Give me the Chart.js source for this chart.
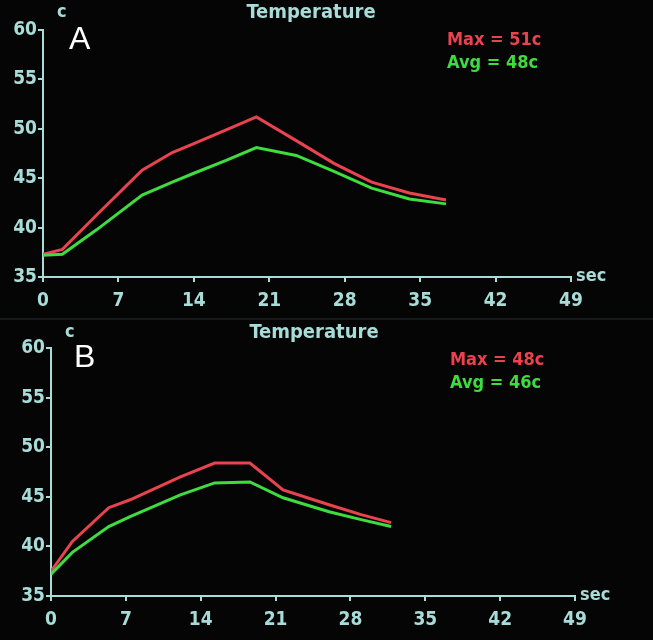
<!DOCTYPE html>
<html>
<head>
<meta charset="utf-8">
<script src="https://cdn.jsdelivr.net/npm/chart.js@4/dist/chart.umd.min.js"></script>
<style>
  html,body{margin:0;padding:0;background:#050505;width:653px;height:640px;overflow:hidden;}
  .panel{position:absolute;left:0;width:653px;height:320px;}
  #sep{position:absolute;left:0;top:318px;width:653px;height:2px;background:#151818;}
</style>
</head>
<body>
<div class="panel" style="top:0"><canvas id="cA" width="653" height="320"></canvas></div>
<div id="sep"></div>
<div class="panel" style="top:320px"><canvas id="cB" width="653" height="320"></canvas></div>
<script>
// ---- data ----
const xTicks = [0, 7, 14, 21, 28, 35, 42, 49];
const yTicks = [35, 40, 45, 50, 55, 60];

const timeA = [0, 1.8, 5, 9.2, 12, 14, 17, 19.8, 23.5, 27, 30.5, 34, 37.4];
const maxA  = [37.3, 37.8, 41.3, 45.8, 47.6, 48.5, 49.9, 51.2, 48.8, 46.5, 44.6, 43.5, 42.8];
const avgA  = [37.2, 37.3, 39.8, 43.3, 44.6, 45.5, 46.8, 48.1, 47.3, 45.7, 44.0, 42.9, 42.4];

const timeB = [0, 2, 5.4, 7.4, 12.1, 15.3, 18.6, 21.7, 26, 29, 31.8];
const maxB  = [37.5, 40.5, 43.9, 44.7, 47.0, 48.4, 48.4, 45.7, 44.2, 43.2, 42.4];
const avgB  = [37.2, 39.4, 42.0, 43.0, 45.2, 46.4, 46.5, 44.9, 43.5, 42.7, 42.0];

const titleText = "Temperature";
const yUnit = "c";
const xUnit = "sec";
const maxLabelA = "Max = 51c", avgLabelA = "Avg = 48c";
const maxLabelB = "Max = 48c", avgLabelB = "Avg = 46c";

// ---- style ----
const CYAN = '#a8dcd8';
const RED = '#e8434e';
const GREEN = '#3fdc3f';
const NARROW = "'DejaVu Sans Condensed','Liberation Sans',sans-serif";
const SANS = "'Liberation Sans',Arial,sans-serif";

function pts(t, v){ return t.map((x,i)=>({x:x, y:v[i]})); }

function makeChart(id, o){
  const annot = {
    id:'annot'+id,
    afterDraw(chart){
      const ctx = chart.ctx;
      const a = chart.chartArea;
      ctx.save();
      ctx.textBaseline = 'middle';
      // title
      ctx.fillStyle = CYAN;
      ctx.font = "bold 20px " + NARROW;
      ctx.textAlign = 'center';
      ctx.fillText(titleText, o.titleX, 13);
      // units
      ctx.font = "bold 18px " + NARROW;
      ctx.textAlign = 'left';
      ctx.fillText(yUnit, a.left + 14, 12);
      ctx.fillText(xUnit, a.right + 5, a.bottom - 1);
      // panel letter
      ctx.fillStyle = '#ffffff';
      ctx.font = "32px " + SANS;
      ctx.fillText(o.letter, o.letterX, o.letterY);
      // stats
      ctx.font = "bold 18px " + NARROW;
      ctx.fillStyle = RED;
      ctx.fillText(o.maxLabel, o.statX, 40);
      ctx.fillStyle = GREEN;
      ctx.fillText(o.avgLabel, o.statX, 63);
      ctx.restore();
    }
  };
  return new Chart(document.getElementById(id), {
    type:'line',
    data:{
      datasets:[
        {label:'Avg', data:pts(o.t, o.avg), borderColor:GREEN, borderWidth:3, pointRadius:0, tension:0, order:0},
        {label:'Max', data:pts(o.t, o.max), borderColor:RED, borderWidth:3, pointRadius:0, tension:0, order:1}
      ]
    },
    options:{
      responsive:false,
      animation:false,
      events:[],
      layout:{padding:{top:o.top, right:653-o.right, left:0, bottom:0}},
      plugins:{legend:{display:false}, title:{display:false}, tooltip:{enabled:false}},
      scales:{
        x:{
          type:'linear', min:0, max:49,
          afterBuildTicks(s){ s.ticks = xTicks.map(v=>({value:v})); },
          afterFit(s){ s.height = 320 - o.bottom; },
          border:{display:true, color:CYAN, width:2},
          grid:{drawOnChartArea:false, drawTicks:true, tickLength:5, color:CYAN, lineWidth:2},
          ticks:{color:CYAN, padding:8, maxRotation:0, autoSkip:false, font:{family:NARROW, size:19, weight:'bold'}}
        },
        y:{
          type:'linear', min:35, max:60,
          afterBuildTicks(s){ s.ticks = yTicks.map(v=>({value:v})); },
          afterFit(s){ s.width = o.left; },
          border:{display:true, color:CYAN, width:2},
          grid:{drawOnChartArea:false, drawTicks:true, tickLength:5, color:CYAN, lineWidth:2},
          ticks:{color:CYAN, padding:1, autoSkip:false, font:{family:NARROW, size:19, weight:'bold'}}
        }
      }
    },
    plugins:[annot]
  });
}

makeChart('cA', {t:timeA, max:maxA, avg:avgA, left:43, right:571, top:30, bottom:277,
  titleX:311, letter:'A', letterX:69, letterY:40, statX:447, maxLabel:maxLabelA, avgLabel:avgLabelA});
makeChart('cB', {t:timeB, max:maxB, avg:avgB, left:51, right:575, top:28, bottom:276,
  titleX:314, letter:'B', letterX:74, letterY:38, statX:450, maxLabel:maxLabelB, avgLabel:avgLabelB});
</script>
</body>
</html>
